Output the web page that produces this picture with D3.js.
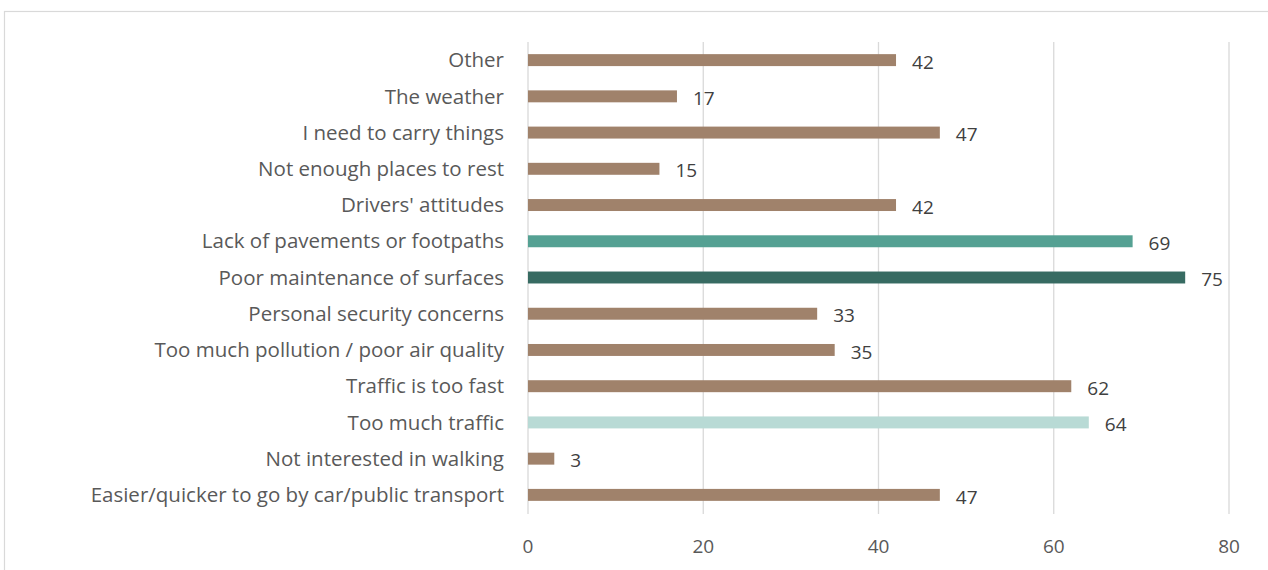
<!DOCTYPE html>
<html>
<head>
<meta charset="utf-8">
<style>
  body { margin: 0; background: #fff; }
  svg text { font-family: "Open Sans", sans-serif; }
</style>
</head>
<body>
<script src="https://d3js.org/d3.v7.min.js"></script>
<svg id="chart" width="1268" height="570"></svg>
<script>
// categories top to bottom
var categories = [
  "Other",
  "The weather",
  "I need to carry things",
  "Not enough places to rest",
  "Drivers' attitudes",
  "Lack of pavements or footpaths",
  "Poor maintenance of surfaces",
  "Personal security concerns",
  "Too much pollution / poor air quality",
  "Traffic is too fast",
  "Too much traffic",
  "Not interested in walking",
  "Easier/quicker to go by car/public transport"
];
var values = [42, 17, 47, 15, 42, 69, 75, 33, 35, 62, 64, 3, 47];
var xTicks = [0, 20, 40, 60, 80];

// highlighted bars
var highlight = {
  "Lack of pavements or footpaths": "#55a193",
  "Poor maintenance of surfaces": "#376b62",
  "Too much traffic": "#b8dad5"
};
var baseColor = "#a0826b";

var svg = d3.select("#chart");

// outer frame
svg.append("rect")
  .attr("x", 4.5).attr("y", 11.5)
  .attr("width", 1275).attr("height", 580)
  .attr("fill", "none")
  .attr("stroke", "#d9d9d9")
  .attr("stroke-width", 1.2);

var x = d3.scaleLinear().domain([0, 80]).range([528, 1229]);
var y = d3.scaleBand().domain(categories).range([42, 513]).paddingInner(0.67).paddingOuter(0.335);

// gridlines
svg.append("g").selectAll("line")
  .data(xTicks)
  .enter().append("line")
    .attr("x1", d => x(d)).attr("x2", d => x(d))
    .attr("y1", 42).attr("y2", 514)
    .attr("stroke", "#d9d9d9")
    .attr("stroke-width", 1.3);

// x tick labels
svg.append("g").selectAll("text")
  .data(xTicks)
  .enter().append("text")
    .attr("x", d => x(d))
    .attr("y", 546)
    .attr("dy", "0.35em")
    .attr("text-anchor", "middle")
    .attr("font-size", 19)
    .attr("fill", "#595959")
    .text(d => d);

// category labels
svg.append("g").selectAll("text")
  .data(categories)
  .enter().append("text")
    .attr("x", 504)
    .attr("y", d => y(d) + y.bandwidth() / 2)
    .attr("dy", "0.35em")
    .attr("text-anchor", "end")
    .attr("font-size", 20.5)
    .attr("fill", "#595959")
    .text(d => d);

// bars
svg.append("g").selectAll("rect")
  .data(categories)
  .enter().append("rect")
    .attr("x", x(0))
    .attr("y", d => y(d))
    .attr("width", (d, i) => x(values[i]) - x(0))
    .attr("height", y.bandwidth())
    .attr("fill", d => highlight[d] || baseColor);

// value labels
svg.append("g").selectAll("text")
  .data(categories)
  .enter().append("text")
    .attr("x", (d, i) => x(values[i]) + 16)
    .attr("y", d => y(d) + y.bandwidth() / 2 + 2)
    .attr("dy", "0.35em")
    .attr("font-size", 19)
    .attr("fill", "#404040")
    .text((d, i) => values[i]);
</script>
</body>
</html>
